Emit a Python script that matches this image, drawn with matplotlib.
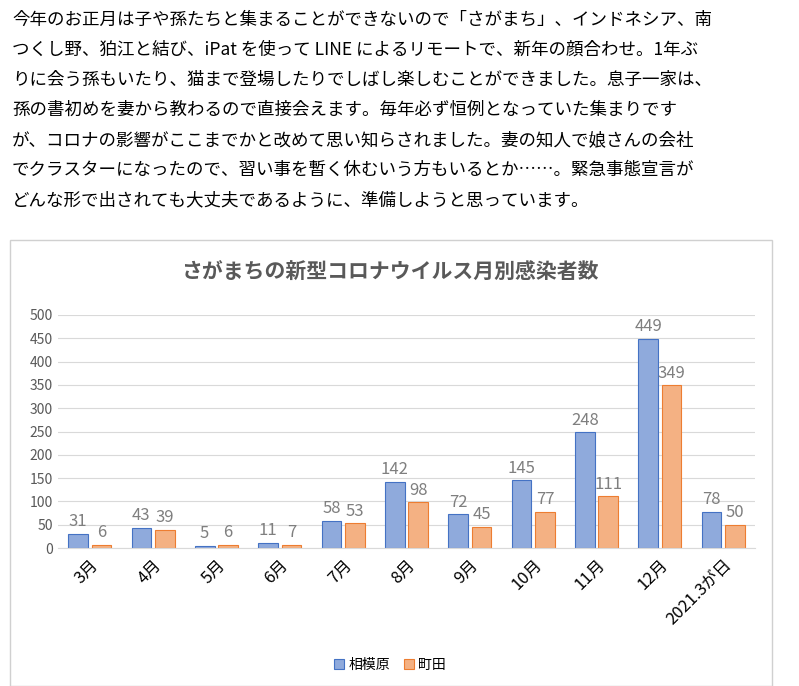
import matplotlib
matplotlib.use("Agg")
import matplotlib.pyplot as plt
import numpy as np
from matplotlib.patches import Rectangle

plt.rcParams['font.family'] = ['Noto Sans CJK JP', 'DejaVu Sans']

months = ["3月","4月","5月","6月","7月","8月","9月","10月","11月","12月","2021.3が日"]
sagamihara = [31,43,5,11,58,142,72,145,248,449,78]
machida = [6,39,6,7,53,98,45,77,111,349,50]
yticks = [0,50,100,150,200,250,300,350,400,450,500]

lines = [
 "今年のお正月は子や孫たちと集まることができないので「さがまち」、インドネシア、南",
 "つくし野、狛江と結び、iPat を使って LINE によるリモートで、新年の顔合わせ。1年ぶ",
 "りに会う孫もいたり、猫まで登場したりでしばし楽しむことができました。息子一家は、",
 "孫の書初めを妻から教わるので直接会えます。毎年必ず恒例となっていた集まりです",
 "が、コロナの影響がここまでかと改めて思い知らされました。妻の知人で娘さんの会社",
 "でクラスターになったので、習い事を暫く休むいう方もいるとか……。緊急事態宣言が",
 "どんな形で出されても大丈夫であるように、準備しようと思っています。",
]

W, H = 799, 686
fig = plt.figure(figsize=(W/100, H/100), dpi=100)
for i, t in enumerate(lines):
    fig.text(12/W, 1-(20+30*i)/H, t, fontsize=12.6, va='center', ha='left', color='black')

fig.patches.append(Rectangle((10/W, 0), 762/W, 446/H, transform=fig.transFigure,
                             fill=False, edgecolor='#d0d0d0', lw=1))
fig.text(390/W, 1-272/H, "さがまちの新型コロナウイルス月別感染者数", fontsize=15,
         color='#595959', ha='center', va='center', fontweight='bold')

ax = fig.add_axes([58/W, 1-548/H, 697/W, 233/H])
x = np.arange(len(months))
w = 0.31
b1 = ax.bar(x-w/2-0.03, sagamihara, w, color='#8FAADC', edgecolor='#4472C4', lw=0.8)
b2 = ax.bar(x+w/2+0.03, machida, w, color='#F4B183', edgecolor='#ED7D31', lw=0.8)
for xi, v in zip(x, sagamihara):
    ax.text(xi-w/2-0.03, v+8, str(v), ha='center', va='bottom', fontsize=12, color='#7f7f7f')
for xi, v in zip(x, machida):
    ax.text(xi+w/2+0.03, v+8, str(v), ha='center', va='bottom', fontsize=12, color='#7f7f7f')
ax.set_ylim(0, 500)
ax.set_xlim(-0.5, len(months)-0.5)
ax.set_yticks(yticks)
ax.yaxis.grid(True, color='#d9d9d9', lw=0.8)
ax.set_axisbelow(True)
for s in ['top','right','left']:
    ax.spines[s].set_visible(False)
ax.spines['bottom'].set_color('#d9d9d9')
ax.tick_params(axis='both', length=0, labelsize=10, colors='#595959')
ax.set_xticks(x)
ax.set_xticklabels(months, rotation=45, ha='right', rotation_mode='anchor', fontsize=12, color='black')
ax.tick_params(axis='x', pad=6)
fig.legend([b1, b2], ["相模原", "町田"], loc='center', bbox_to_anchor=(390/W, 1-665/H),
           ncol=2, frameon=False, fontsize=10, handlelength=0.7, handleheight=0.7,
           columnspacing=1.0, handletextpad=0.3)
fig.savefig("out.png", dpi=100)
